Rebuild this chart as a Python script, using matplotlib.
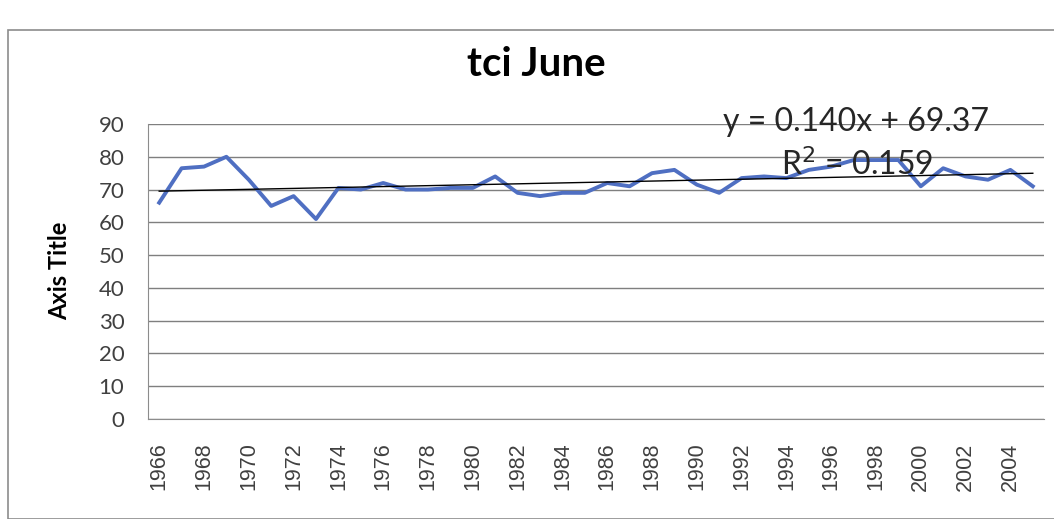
import numpy as np
import matplotlib.pyplot as plt
from matplotlib.patches import Rectangle

# data
years = list(range(1966, 2006))
tci = [66, 76.5, 77, 80, 73, 65, 68, 61, 70.5, 70,
       72, 70, 70, 70.5, 70.5, 74, 69, 68, 69, 69,
       72, 71, 75, 76, 71.5, 69, 73.5, 74, 73.5, 76,
       77, 79, 79, 79, 71, 76.5, 74, 73, 76, 71]
slope, intercept = 0.140, 69.37
eq_text = "y = 0.140x + 69.37"
r2_text = "R$^2$ = 0.159"

x = np.arange(len(years))
trend = slope * (x + 1) + intercept

fig = plt.figure(figsize=(10.54, 5.19), dpi=100)
fig.patches.append(Rectangle((8/1054, 0), 1.0, 1 - 30/519, transform=fig.transFigure,
                             fill=False, edgecolor='#8c8c8c', lw=1.2))

ax = fig.add_axes([148/1054, 100/519, 896/1054, 295/519])
ax.plot(x, tci, color='#4F6FC2', lw=2.8, solid_joinstyle='round', zorder=3)
ax.plot(x, trend, color='black', lw=1.0, zorder=4)

ax.set_xlim(-0.5, len(years) - 0.5)
ax.set_ylim(0, 90)
ax.set_yticks(range(0, 91, 10))
ax.set_xticks(x[::2])
ax.set_xticklabels([str(y) for y in years[::2]], rotation=90,
                   fontsize=15.5, family='Liberation Sans', color='#404040')
for lab in ax.get_yticklabels():
    lab.set_family('Lato')
    lab.set_fontsize(16)
    lab.set_color('#404040')
ax.tick_params(axis='y', length=0, pad=17)
ax.tick_params(axis='x', length=0, pad=17)
ax.grid(axis='y', color='#7f7f7f', lw=1.0)
ax.set_axisbelow(True)
for s in ['top', 'right']:
    ax.spines[s].set_visible(False)
ax.spines['left'].set_color('#8c8c8c')
ax.spines['bottom'].set_color('#8c8c8c')

fig.text(60/1054, 1 - 271/519, 'Axis Title', family='Lato', fontweight='bold',
         fontsize=17, rotation=90, ha='center', va='center')
fig.text(536/1054, 1 - 65/519, 'tci June', family='Lato', fontweight='bold',
         fontsize=29, ha='center', va='center')
fig.text(856/1054, 1 - 122/519, eq_text, family='Lato', fontsize=23,
         ha='center', va='center', color='#262626')
fig.text(857/1054, 1 - 165/519, r2_text, family='Lato', fontsize=23,
         ha='center', va='center', color='#262626')

fig.savefig('out.png', dpi=100)
